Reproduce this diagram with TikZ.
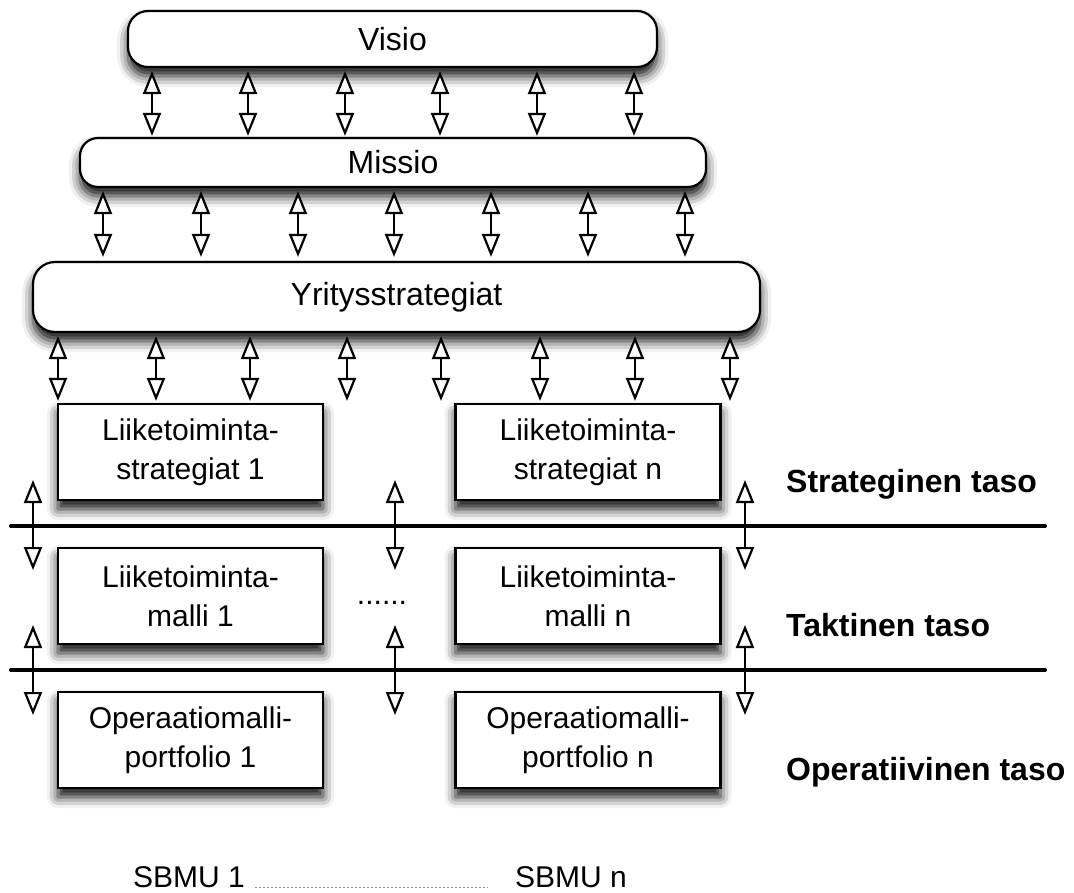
\documentclass[tikz,border=0pt]{standalone}
\usepackage{fontspec}
\setmainfont{Liberation Sans}
\usetikzlibrary{arrows.meta,shadows.blur}

\begin{document}
\begin{tikzpicture}[x=1pt,y=-1pt,
  txt/.style={font=\fontsize{30}{39}\selectfont},
  big/.style={font=\fontsize{32}{39}\selectfont},
  lvl/.style={font=\bfseries\fontsize{32}{39}\selectfont, anchor=base west, inner sep=0pt},
  shade/.style={blur shadow={shadow xshift=0pt, shadow yshift=-9pt, shadow blur radius=11pt, shadow opacity=95}},
  pill/.style={draw, line width=2.2pt, fill=white, shade, inner sep=0pt, big},
  unit/.style={draw, line width=2.2pt, fill=white, shade, inner sep=0pt, txt, align=center,
               minimum width=265pt, minimum height=96pt},
  dbl/.style={line width=2.4pt,
    {Triangle[length=23pt,width=18pt,fill=white,line width=2.2pt]}-{Triangle[length=23pt,width=18pt,fill=white,line width=2.2pt]}},
  divider/.style={line width=4pt, line cap=round},
  dotline/.style={draw=black!45, line width=0.8pt, dash pattern=on 2pt off 2pt}
]
\useasboundingbox (0,0) rectangle (1074,892);

% top of the hierarchy
\node[pill, rounded corners=20pt, minimum width=529pt, minimum height=56pt] (visio) at (392.5,39) {Visio};
\node[pill, rounded corners=18pt, minimum width=626pt, minimum height=49pt] (missio) at (393,162.5) {Missio};
\node[pill, rounded corners=22pt, minimum width=727pt, minimum height=70pt] (yritys) at (396.5,297) {Yritysstrategiat};

% strategic business units
\node[unit] (ls1) at (190.5,452) {Liiketoiminta-\\strategiat 1};
\node[unit] (lsn) at (588,452)   {Liiketoiminta-\\strategiat n};
\node[unit] (lm1) at (190.5,596) {Liiketoiminta-\\malli 1};
\node[unit] (lmn) at (588,596)   {Liiketoiminta-\\malli n};
\node[unit] (op1) at (190.5,740) {Operaatiomalli-\\portfolio 1};
\node[unit] (opn) at (588,740)   {Operaatiomalli-\\portfolio n};

\node[txt, inner sep=0pt, anchor=base] (dots) at (382,604) {......};

% level dividers
\coordinate (d1a) at (11,526);  \coordinate (d1b) at (1045,526);
\coordinate (d2a) at (11,670);  \coordinate (d2b) at (1045,670);
\draw[divider] (d1a) -- (d1b);
\draw[divider] (d2a) -- (d2b);

% level labels
\node[lvl] (strat) at (786,492) {Strateginen taso};
\node[lvl] (takt)  at (786,636) {Taktinen taso};
\node[lvl] (oper)  at (786,780) {Operatiivinen taso};

% arrows between the levels of the hierarchy
\foreach \x in {152,248,345,440,537,634}
  \draw[dbl, shorten <=3pt, shorten >=1pt] (visio.south -| \x,0) -- (missio.north -| \x,0);
\foreach \x in {103,201,298,394,491,588,685}
  \draw[dbl, shorten <=3pt, shorten >=4pt] (missio.south -| \x,0) -- (yritys.north -| \x,0);
\foreach \x in {58,156,250,347,441,540,635,730}
  \draw[dbl, shorten <=3pt, shorten >=2pt] (yritys.south -| \x,0) -- (ls1.north -| \x,0);

% arrows across the dividers
\foreach \x [count=\i] in {33,395,745} {
  \coordinate (u\i a) at (\x,480); \coordinate (u\i b) at (\x,570);
  \coordinate (v\i a) at (\x,625); \coordinate (v\i b) at (\x,715);
  \draw[dbl] (u\i a) -- (u\i b);
  \draw[dbl] (v\i a) -- (v\i b);
}

% unit captions
\node[txt, inner sep=0pt, anchor=base west] (sbmu1) at (133,887) {SBMU 1};
\node[txt, inner sep=0pt, anchor=base west] (sbmun) at (515,887) {SBMU n};
\draw[dotline] ([xshift=10pt]sbmu1.base east) -- ([xshift=-27pt]sbmun.base west);
\end{tikzpicture}
\end{document}
